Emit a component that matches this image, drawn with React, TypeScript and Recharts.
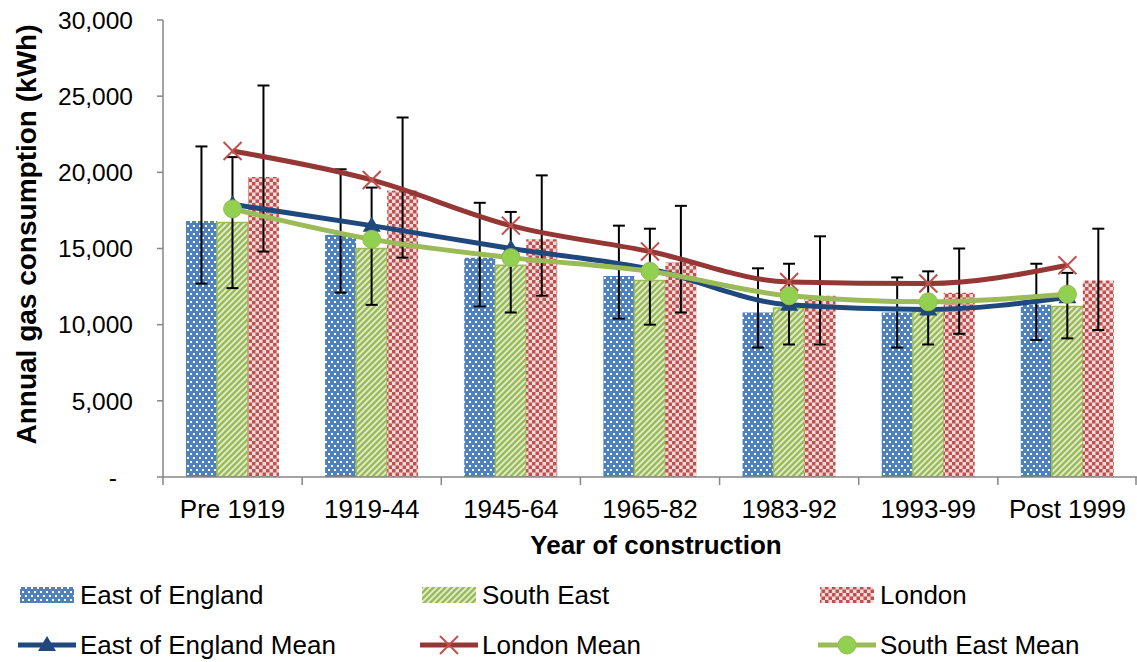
import { ComposedChart, Bar, Line, XAxis, YAxis, ErrorBar, Legend } from "recharts";

const categories = ["Pre 1919", "1919-44", "1945-64", "1965-82", "1983-92", "1993-99", "Post 1999"];

// bar values (kWh)
const eoe = [16800, 15900, 14400, 13200, 10800, 10800, 11300];
const se = [16700, 15000, 13900, 12900, 11100, 10900, 11200];
const london = [19700, 18800, 15600, 14100, 11900, 12100, 12900];

// error bar ends
const eoeLow = [12700, 12100, 11200, 10400, 8500, 8500, 9000];
const eoeHigh = [21700, 20200, 18000, 16500, 13700, 13100, 14000];
const seLow = [12400, 11300, 10800, 10000, 8700, 8700, 9100];
const seHigh = [21000, 19000, 17400, 16300, 14000, 13500, 13400];
const londonLow = [14800, 14400, 11900, 10800, 8700, 9400, 9650];
const londonHigh = [25700, 23600, 19800, 17800, 15800, 15000, 16300];

// means
const eoeMean = [17900, 16500, 15000, 13650, 11300, 11000, 11800];
const londonMean = [21400, 19500, 16500, 14800, 12800, 12700, 13900];
const seMean = [17600, 15600, 14400, 13500, 11900, 11500, 12000];

const yTicks = [0, 5000, 10000, 15000, 20000, 25000, 30000];

const data = categories.map((year, i) => ({
  year,
  eoe: eoe[i],
  se: se[i],
  london: london[i],
  eoeErr: [eoe[i] - eoeLow[i], eoeHigh[i] - eoe[i]],
  seErr: [se[i] - seLow[i], seHigh[i] - se[i]],
  londonErr: [london[i] - londonLow[i], londonHigh[i] - london[i]],
  eoeMean: eoeMean[i],
  londonMean: londonMean[i],
  seMean: seMean[i],
}));

const FONT = '"Liberation Sans", Arial, sans-serif';
const AXIS = "#868686";
const NAVY = "#1F497D";
const DARKRED = "#953735";
const GREEN = "#9BBB59";

const Patterns = () => (
  <defs>
    <pattern id="dots" width="6" height="8" patternUnits="userSpaceOnUse">
      <rect width="6" height="8" fill="#4F81BD" />
      <rect x="1" y="1" width="2" height="2" fill="#fff" />
      <rect x="4" y="5" width="2" height="2" fill="#fff" />
    </pattern>
    <pattern id="stripes" width="6" height="6" patternUnits="userSpaceOnUse">
      <rect width="6" height="6" fill={GREEN} />
      <path d="M0,6 L6,0 M-1.5,1.5 L1.5,-1.5 M4.5,7.5 L7.5,4.5" stroke="#E4EDD2" strokeWidth="1.8" />
    </pattern>
    <pattern id="checks" width="7" height="7" patternUnits="userSpaceOnUse">
      <rect width="7" height="7" fill="#F2DCDB" />
      <rect width="3.5" height="3.5" fill="#C0504D" />
      <rect x="3.5" y="3.5" width="3.5" height="3.5" fill="#C0504D" />
    </pattern>
  </defs>
);

const TriangleDot = (p: any) =>
  p.cx == null ? null : (
    <path key={p.index} d={`M${p.cx},${p.cy - 9} L${p.cx + 9},${p.cy + 6} L${p.cx - 9},${p.cy + 6} Z`} fill={NAVY} />
  );

const CrossDot = (p: any) =>
  p.cx == null ? null : (
    <g key={p.index}>
      <line x1={p.cx - 9} y1={p.cy - 9} x2={p.cx + 9} y2={p.cy + 9} stroke="#C0504D" strokeWidth={2} />
      <line x1={p.cx - 9} y1={p.cy + 9} x2={p.cx + 9} y2={p.cy - 9} stroke="#C0504D" strokeWidth={2} />
    </g>
  );

const CircleDot = (p: any) =>
  p.cx == null ? null : <circle key={p.index} cx={p.cx} cy={p.cy} r={9} fill="#92D050" stroke={GREEN} strokeWidth={1} />;

const XTick = (p: any) => {
  const { x, y, payload, index, visibleTicksCount } = p;
  const half = payload.offset ?? 69.5;
  return (
    <g>
      <line x1={x - half} x2={x - half} y1={y} y2={y + 8} stroke={AXIS} strokeWidth={1.5} />
      {index === visibleTicksCount - 1 && (
        <line x1={x + half - 1} x2={x + half - 1} y1={y} y2={y + 8} stroke={AXIS} strokeWidth={1.5} />
      )}
      <text x={x} y={y + 23} dy="0.71em" textAnchor="middle" fontSize={26} fontFamily={FONT} fill="#000">
        {payload.value}
      </text>
    </g>
  );
};

const YTick = (p: any) => {
  const { x, y, payload } = p;
  const zero = payload.value === 0;
  return (
    <text x={zero ? x - 16 : x} y={y} dy="0.355em" textAnchor="end" fontSize={24.5} fontFamily={FONT} fill="#000">
      {zero ? "-" : payload.value.toLocaleString("en-US")}
    </text>
  );
};

const YTitle = (p: any) => {
  const vb = p.viewBox;
  const cy = vb.y + vb.height / 2 - 14;
  return (
    <text x={36} y={cy} transform={`rotate(-90, 36, ${cy})`} textAnchor="middle" fontSize={28} fontWeight="bold" fontFamily={FONT} fill="#000">
      Annual gas consumption (kWh)
    </text>
  );
};

const XTitle = (p: any) => {
  const vb = p.viewBox;
  return (
    <text x={vb.x + vb.width / 2 + 6} y={vb.y + vb.height - 8} textAnchor="middle" fontSize={26} fontWeight="bold" fontFamily={FONT} fill="#000">
      Year of construction
    </text>
  );
};

const legendCols = [18, 420, 818];
const barItems = [
  { name: "East of England", fill: "url(#dots)" },
  { name: "South East", fill: "url(#stripes)" },
  { name: "London", fill: "url(#checks)" },
];
const lineItems = [
  { name: "East of England Mean", color: NAVY, dot: TriangleDot },
  { name: "London Mean", color: DARKRED, dot: CrossDot },
  { name: "South East Mean", color: GREEN, dot: CircleDot },
];

const LegendBox = () => (
  <div style={{ position: "relative", width: 1137, height: 100, fontFamily: FONT, fontSize: 26, color: "#000" }}>
    {barItems.map((it, i) => (
      <div key={it.name} style={{ position: "absolute", left: legendCols[i], top: 18, display: "flex", alignItems: "center", height: 30 }}>
        <svg width={58} height={18} style={{ marginRight: 4 }}>
          <Patterns />
          <rect x={2} y={1} width={54} height={16} fill={it.fill} />
        </svg>
        <span style={{ whiteSpace: "nowrap" }}>{it.name}</span>
      </div>
    ))}
    {lineItems.map((it, i) => {
      const Dot = it.dot;
      return (
        <div key={it.name} style={{ position: "absolute", left: legendCols[i], top: 68, display: "flex", alignItems: "center", height: 30 }}>
          <svg width={58} height={24} style={{ marginRight: 4 }}>
            <line x1={0} y1={12} x2={58} y2={12} stroke={it.color} strokeWidth={5} />
            <Dot cx={29} cy={12} index={0} />
          </svg>
          <span style={{ whiteSpace: "nowrap" }}>{it.name}</span>
        </div>
      );
    })}
  </div>
);

export default function App() {
  return (
    <div style={{ position: "absolute", left: 0, top: 0, background: "#fff" }}>
      <ComposedChart
        width={1137}
        height={662}
        data={data}
        margin={{ top: 20, right: 0, left: 0, bottom: 0 }}
        barCategoryGap="16.5%"
        barGap={0}
      >
        <Patterns />
        <XAxis
          dataKey="year"
          height={85}
          axisLine={{ stroke: AXIS, strokeWidth: 1.5 }}
          tickLine={false}
          tickSize={0}
          tickMargin={0}
          interval={0}
          tick={<XTick />}
          label={<XTitle />}
        />
        <YAxis
          width={163}
          domain={[0, 30000]}
          ticks={yTicks}
          allowDataOverflow
          axisLine={{ stroke: AXIS, strokeWidth: 1.5 }}
          tickLine={{ stroke: AXIS, strokeWidth: 1.5 }}
          tickSize={6}
          tickMargin={24}
          tick={<YTick />}
          label={<YTitle />}
        />
        <Legend verticalAlign="bottom" content={<LegendBox />} wrapperStyle={{ left: 0, width: 1137, height: 100 }} />
        <Bar dataKey="eoe" name="East of England" fill="url(#dots)" isAnimationActive={false}>
          <ErrorBar dataKey="eoeErr" direction="y" width={6} stroke="#000" strokeWidth={2} />
        </Bar>
        <Bar dataKey="se" name="South East" fill="url(#stripes)" stroke={GREEN} strokeWidth={1.5} isAnimationActive={false}>
          <ErrorBar dataKey="seErr" direction="y" width={6} stroke="#000" strokeWidth={2} />
        </Bar>
        <Bar dataKey="london" name="London" fill="url(#checks)" isAnimationActive={false}>
          <ErrorBar dataKey="londonErr" direction="y" width={6} stroke="#000" strokeWidth={2} />
        </Bar>
        <Line type="monotone" dataKey="eoeMean" name="East of England Mean" stroke={NAVY} strokeWidth={5} dot={TriangleDot} activeDot={false} isAnimationActive={false} />
        <Line type="monotone" dataKey="londonMean" name="London Mean" stroke={DARKRED} strokeWidth={5} dot={CrossDot} activeDot={false} isAnimationActive={false} />
        <Line type="monotone" dataKey="seMean" name="South East Mean" stroke={GREEN} strokeWidth={5} dot={CircleDot} activeDot={false} isAnimationActive={false} />
      </ComposedChart>
    </div>
  );
}
